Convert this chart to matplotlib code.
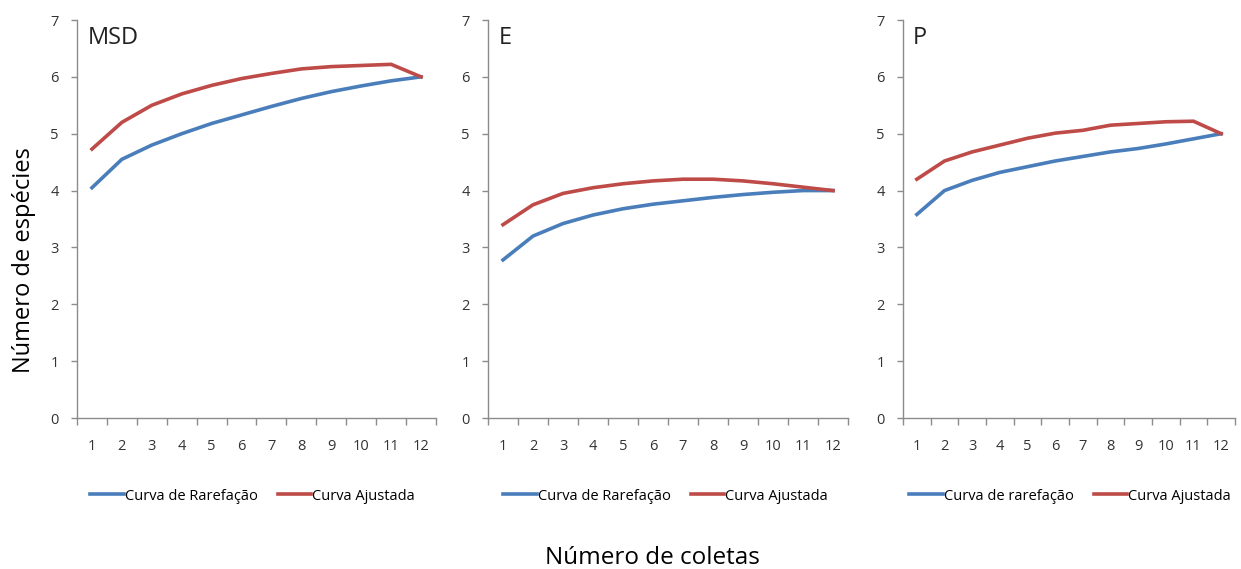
import matplotlib.pyplot as plt
from matplotlib.ticker import FixedLocator

plt.rcParams['font.family'] = ['Open Sans', 'DejaVu Sans']

coletas = list(range(1, 13))

# MSD
msd_rarefacao = [4.05, 4.55, 4.80, 5.00, 5.18, 5.33, 5.48, 5.62, 5.74, 5.84, 5.93, 6.00]
msd_ajustada = [4.73, 5.20, 5.50, 5.70, 5.85, 5.97, 6.06, 6.14, 6.18, 6.20, 6.22, 6.00]

# E
e_rarefacao = [2.78, 3.20, 3.42, 3.57, 3.68, 3.76, 3.82, 3.88, 3.93, 3.97, 4.00, 4.00]
e_ajustada = [3.40, 3.75, 3.95, 4.05, 4.12, 4.17, 4.20, 4.20, 4.17, 4.12, 4.06, 4.00]

# P
p_rarefacao = [3.58, 4.00, 4.18, 4.32, 4.42, 4.52, 4.60, 4.68, 4.74, 4.82, 4.91, 5.00]
p_ajustada = [4.20, 4.52, 4.68, 4.80, 4.92, 5.01, 5.06, 5.15, 5.18, 5.21, 5.22, 5.00]

titulos = ['MSD', 'E', 'P']
rotulos_rarefacao = ['Curva de Rarefação', 'Curva de Rarefação', 'Curva de rarefação']

BLUE = '#4A7EBB'
RED = '#BE4B48'
GRAY = '#8C8C8C'

W, H = 1241, 569
fig = plt.figure(figsize=(W / 100, H / 100), dpi=100)

# axes boxes in pixels: left, right
boxes = [(77, 436), (488, 848), (903, 1235)]
top, bottom = 20, 418
legend_x = [83, 496, 902]

series = [(msd_rarefacao, msd_ajustada), (e_rarefacao, e_ajustada), (p_rarefacao, p_ajustada)]

for i, ((l, r), (rare, ajus)) in enumerate(zip(boxes, series)):
    ax = fig.add_axes([l / W, 1 - bottom / H, (r - l) / W, (bottom - top) / H])
    ln1, = ax.plot(coletas, rare, color=BLUE, lw=2.6, solid_joinstyle='miter',
                   label=rotulos_rarefacao[i])
    ln2, = ax.plot(coletas, ajus, color=RED, lw=2.6, solid_joinstyle='miter',
                   label='Curva Ajustada')
    ax.set_xlim(0.5, 12.5)
    ax.set_ylim(0, 7)
    ax.set_yticks(range(0, 8))
    for s in ['top', 'right']:
        ax.spines[s].set_visible(False)
    for s in ['left', 'bottom']:
        ax.spines[s].set_color(GRAY)
        ax.spines[s].set_linewidth(1.0)
    # category boundaries as major ticks, labels at centres as minor ticks
    ax.xaxis.set_major_locator(FixedLocator([x + 0.5 for x in range(0, 13)]))
    ax.xaxis.set_minor_locator(FixedLocator(coletas))
    ax.set_xticklabels([])
    ax.set_xticklabels([str(c) for c in coletas], minor=True)
    ax.tick_params(axis='x', which='major', length=5, color=GRAY, width=1)
    ax.tick_params(axis='x', which='minor', length=0, pad=15, labelsize=10.5, labelcolor='#333333')
    ax.tick_params(axis='y', length=4, color=GRAY, width=1, pad=9, labelsize=10.5,
                   labelcolor='#333333')
    ax.text(0.03, 0.985, titulos[i], transform=ax.transAxes, ha='left', va='top',
            fontsize=17, color='#222222')
    ax.legend(handles=[ln1, ln2], loc='center left',
              bbox_to_anchor=(legend_x[i] / W, 1 - 496 / H), bbox_transform=fig.transFigure,
              ncol=2, frameon=False, borderpad=0, handlelength=2.3, handletextpad=0.05,
              columnspacing=1.4, prop={'size': 10.5})

fig.text(24 / W, 1 - 260 / H, 'Número de espécies', rotation=90, ha='center', va='center',
         fontsize=17)
fig.text(652 / W, 1 - 558 / H, 'Número de coletas', ha='center', va='center', fontsize=17.5)

fig.savefig('out.png', dpi=100, facecolor='white')
